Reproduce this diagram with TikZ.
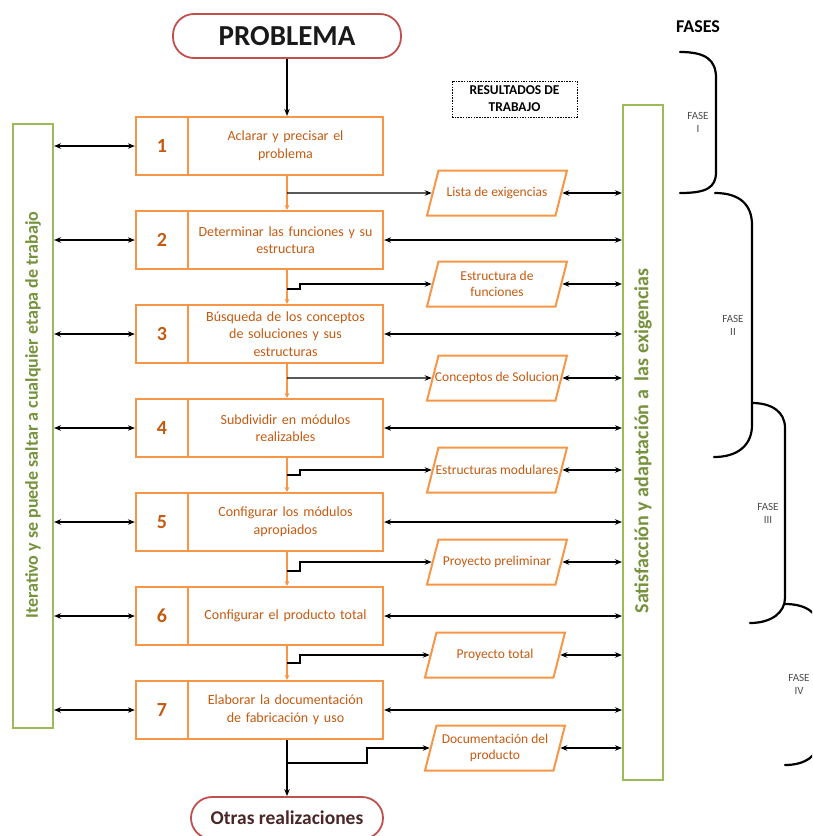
\documentclass[tikz,border=0pt]{standalone}
\usepackage{fontspec}
\setmainfont{Carlito}
\usetikzlibrary{shapes.geometric,arrows.meta}
\definecolor{org}{HTML}{F79646}
\definecolor{orgtxt}{HTML}{C55A11}
\definecolor{grn}{HTML}{9BBB59}
\definecolor{grntxt}{HTML}{76923C}
\definecolor{rd}{HTML}{C0504D}
\definecolor{dkred}{HTML}{4A2626}
\begin{document}
\begin{tikzpicture}[x=1pt,y=-1pt,
 stepbox/.style={draw=org,line width=2.2pt,minimum width=247pt,minimum height=58pt,inner sep=0pt},
 num/.style={font=\fontsize{20}{22}\selectfont\bfseries,text=orgtxt},
 btxt/.style={font=\fontsize{14}{17.5}\selectfont,text=orgtxt,align=center,text width=190pt,inner sep=0pt},
 para/.style={draw=org,line width=2pt,trapezium,trapezium left angle=75,trapezium right angle=105,trapezium stretches body,minimum width=140pt,minimum height=45pt,inner sep=0pt},
 ptxt/.style={font=\fontsize{13.5}{16}\selectfont,text=orgtxt,align=center,inner sep=0pt},
 bar/.style={draw=grn,line width=2pt,minimum width=40pt,inner sep=0pt},
 bartxt/.style={rotate=90,text=grntxt,inner sep=0pt},
 term/.style={draw=rd,line width=1.8pt,rounded corners=21pt,inner sep=0pt},
 dbl/.style={{Stealth[length=7pt,width=5.5pt]}-{Stealth[length=7pt,width=5.5pt]},line width=1.1pt},
 br/.style={-{Stealth[length=7pt,width=5.5pt]},line width=1.1pt},
 flow/.style={draw=org,line width=1.5pt,-{Stealth[length=5pt,width=5pt]}},
 brace/.style={line width=2.2pt,line cap=round},
 fase/.style={font=\fontsize{11}{13}\selectfont,text=black!70,align=center}
]
\clip (0,0) rectangle (812,836);
\useasboundingbox (0,0) rectangle (812,836);

% terminals
\node[term,minimum width=228pt,minimum height=44pt,font=\fontsize{29}{31}\selectfont\bfseries,text=black!90] (prob) at (287,36) {PROBLEMA};
\node[term,minimum width=192pt,minimum height=42pt,font=\fontsize{19.5}{21}\selectfont\bfseries,text=dkred] (otras) at (287,818) {Otras realizaciones};

% step boxes
\foreach \i/\y/\t in {1/146/{Aclarar y precisar el\\problema},
  2/240/{Determinar las funciones y su\\estructura},
  3/334/{Búsqueda de los conceptos\\de soluciones y sus\\estructuras},
  4/428/{Subdividir en módulos\\realizables},
  5/522/{Configurar los módulos\\apropiados},
  6/616/{Configurar el producto total},
  7/710/{Elaborar la documentación\\de fabricación y uso}}{
  \node[stepbox] (b\i) at (259.5,\y) {};
  \draw[draw=org,line width=2.2pt] (188,\y-29) -- (188,\y+29);
  \node[num] (n\i) at (162,\y) {\i};
  \node[btxt] (t\i) at (285.5,\y) {\t};
}

% result parallelograms
\foreach \i/\x/\y/\t in {1/497/193/{Lista de exigencias},
  2/497/284/{Estructura de\\funciones},
  3/497/378/{Conceptos de Solucion},
  4/497/470/{Estructuras modulares},
  5/497/562/{Proyecto preliminar},
  6/495/655/{Proyecto total},
  7/495/748/{Documentación del\\producto}}{
  \node[para] (p\i) at (\x,\y) {\rule{0pt}{43pt}};
  \node[ptxt] (q\i) at (\x,\y) {\t};
}

% green bars
\node[bar,minimum height=604pt] (lbar) at (33,426) {};
\node[bartxt,font=\bfseries\fontsize{18}{20}\selectfont] (ltxt) at (33,415) {Iterativo y se puede saltar a cualquier etapa de trabajo};
\node[bar,minimum height=675pt] (rbar) at (643,442.5) {};
\node[bartxt,font=\bfseries\fontsize{20}{22}\selectfont] (rtxt) at (643,441) {Satisfacción y adaptación a\ \ las exigencias};

% header labels
\node[draw,dash pattern=on 1.5pt off 1.2pt,line width=0.8pt,minimum width=125pt,minimum height=36pt,align=center,font=\fontsize{13.5}{17}\selectfont\bfseries,inner sep=0pt] (res) at (514.5,99) {RESULTADOS DE\\TRABAJO};
\node[font=\fontsize{18}{20}\selectfont\bfseries] (fases) at (698,27) {FASES};

% main flow (spine at x = 287)
\draw[br] (prob.south) -- (prob.south |- b1.north);
\foreach \a/\b in {1/2,2/3,3/4,4/5,5/6,6/7}{
  \draw[flow] (prob.south |- b\a.south) -- (prob.south |- b\b.north);
}
\draw[br] (prob.south |- b7.south) -- (otras.north);

% branches to results
\coordinate (j1) at (287,193);
\draw[br] (j1) -- (p1.west);
\coordinate (j2) at (300,289);
\draw[br] (prob.south |- j2) -- (j2) |- (p2.west);
\coordinate (j3) at (287,378);
\draw[br] (j3) -- (p3.west);
\coordinate (j4) at (300,475);
\draw[br] (prob.south |- j4) -- (j4) |- (p4.west);
\coordinate (j5) at (300,571);
\draw[br] (prob.south |- j5) -- (j5) |- (p5.west);
\coordinate (j6) at (300,663);
\draw[br] (prob.south |- j6) -- (j6) |- (p6.west);
\coordinate (j7) at (367,763);
\draw[br] (prob.south |- j7) -- (j7) |- (p7.west);

% results to right bar
\foreach \i in {1,...,7}{
  \draw[dbl] (p\i.east) -- (p\i.east -| rbar.west);
}
% boxes to right bar
\foreach \i in {2,...,7}{
  \draw[dbl] (b\i.east) -- (b\i.east -| rbar.west);
}
% boxes to left bar
\foreach \i in {1,...,7}{
  \draw[dbl] (b\i.west -| lbar.east) -- (b\i.west);
}

% phase braces
\draw[brace] (680,52) .. controls (706,52) and (716,60) .. (716,78) -- (716,172) .. controls (716,188) and (706,193) .. (680,193);
\draw[brace] (715,193) .. controls (740,193) and (752,205) .. (752,225) -- (752,425) .. controls (752,445) and (738,457) .. (714,457);
\draw[brace] (752,403) .. controls (772,403) and (785,412) .. (785,428) -- (785,598) .. controls (785,612) and (772,623) .. (750,623);
\draw[brace] (785,604) .. controls (805,604) and (818,612) .. (820,628) -- (820,740) .. controls (818,756) and (805,765) .. (785,765);
\node[fase] (f1) at (698,122) {FASE\\I};
\node[fase] (f2) at (733,325) {FASE\\II};
\node[fase] (f3) at (768,513) {FASE\\III};
\node[fase] (f4) at (799,684) {FASE\\IV};
\end{tikzpicture}
\end{document}
